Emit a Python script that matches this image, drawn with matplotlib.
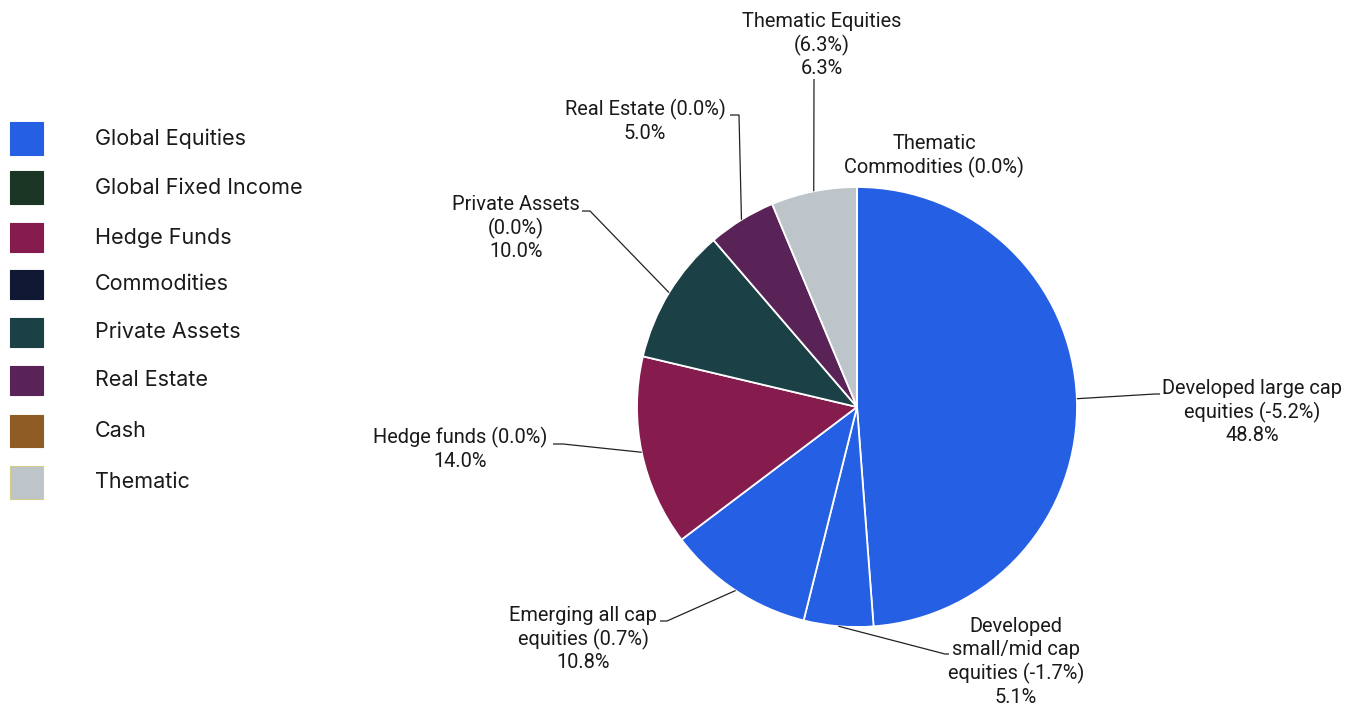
import numpy as np
import matplotlib
matplotlib.use("Agg")
import matplotlib.pyplot as plt
from matplotlib.patches import Rectangle

W, H = 1354, 709

# portfolio split (weights in %, change vs previous in %)
names = ["Developed large cap\nequities", "Developed\nsmall/mid cap\nequities",
         "Emerging all cap\nequities", "Hedge funds", "Private Assets",
         "Real Estate", "Thematic Equities", "Thematic\nCommodities"]
seps = [" ", " ", " ", " ", "\n", " ", "\n", " "]
weights = [48.8, 5.1, 10.8, 14.0, 10.0, 5.0, 6.3, 0.0]
changes = [-5.2, -1.7, 0.7, 0.0, 0.0, 0.0, 6.3, 0.0]
show_value = [True, True, True, True, True, True, True, False]

legend_names = ["Global Equities", "Global Fixed Income", "Hedge Funds", "Commodities",
                "Private Assets", "Real Estate", "Cash", "Thematic"]

blue = "#255fe3"
c_fixed = "#1b3624"
c_hedge = "#861b4d"
c_comm = "#111833"
c_priv = "#1b4045"
c_re = "#592357"
c_cash = "#8e5c24"
c_them = "#bdc4ca"
legend_colors = [blue, c_fixed, c_hedge, c_comm, c_priv, c_re, c_cash, c_them]
slice_colors = [blue, blue, blue, c_hedge, c_priv, c_re, c_them, c_them]

txt = "#1a1a1a"
plt.rcParams["font.family"] = ["Roboto", "DejaVu Sans"]

fig = plt.figure(figsize=(W / 100, H / 100), dpi=100)
ax = fig.add_axes([0, 0, 1, 1])

def py(y):
    return H - y

# pie, pixel-space center and radius
cx, cy, r = 857, py(407), 220
wedges, _ = ax.pie(weights, colors=slice_colors, startangle=90, counterclock=False,
                   center=(cx, cy), radius=r, frame=True,
                   wedgeprops=dict(edgecolor="white", linewidth=1.3))
ax.set_xlim(0, W)
ax.set_ylim(0, H)
ax.axis("off")

# label block centres and leader elbows (pixel coords)
label_pos = [(1252, 412), (1016, 662), (583, 639), (460, 449),
             (516, 228), (645, 121), (822, 45), (934, 156)]
elbows = [[(1155, 394), (1160, 394)],
          [(945, 654), (949, 654)],
          [(667, 621), (660, 621)],
          [(563, 444), (553, 444)],
          [(590, 211), (582, 211)],
          [(739, 115), (730, 115)],
          [(814, 79)],
          None]

for i, wd in enumerate(wedges):
    label = f"{names[i]}{seps[i]}({changes[i]:.1f}%)"
    if show_value[i]:
        label += f"\n{weights[i]:.1f}%"
    lx, ly = label_pos[i]
    ax.text(lx, py(ly), label, ha="center", va="center", fontsize=14.4,
            color=txt, linespacing=1.25, multialignment="center")
    if elbows[i] is None:
        continue
    mid = np.deg2rad((wd.theta1 + wd.theta2) / 2)
    xs = [cx + r * np.cos(mid)] + [p[0] for p in elbows[i]]
    ys = [cy + r * np.sin(mid)] + [py(p[1]) for p in elbows[i]]
    ax.plot(xs, ys, color="#222222", lw=0.9, solid_capstyle="butt")

# legend
box_top = [122, 171, 223, 270, 318, 366, 415, 466]
box_bot = [155, 204, 252, 299, 347, 395, 447, 499]
for i, nm in enumerate(legend_names):
    edge = "#d4cc8a" if nm == "Thematic" else legend_colors[i]
    ax.add_patch(Rectangle((10, py(box_bot[i])), 33, box_bot[i] - box_top[i],
                           facecolor=legend_colors[i], edgecolor=edge, lw=0.8))
    ax.text(95, py((box_top[i] + box_bot[i]) / 2), nm, ha="left", va="center",
            fontsize=15.5, color=txt, family=["Inter", "DejaVu Sans"])

fig.savefig("out.png", dpi=100)
